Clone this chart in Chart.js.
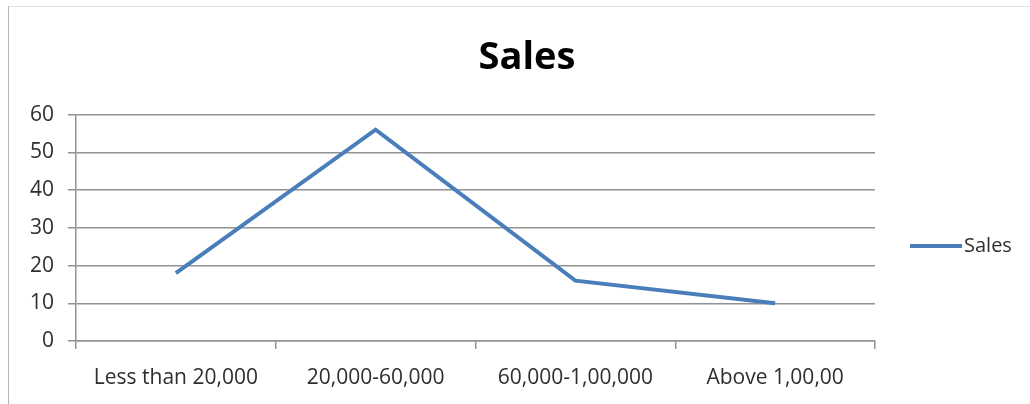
<!DOCTYPE html>
<html>
<head>
<meta charset="utf-8">
<script src="https://cdn.jsdelivr.net/npm/chart.js@4"></script>
<style>
  html, body { margin: 0; padding: 0; background: #fff; }
  #wrap { position: relative; width: 1030px; height: 404px; overflow: hidden; }
  #frame { position: absolute; left: 8px; top: 6px; right: -2px; bottom: -2px;
           border-left: 1px solid #b5b5b5; border-top: 1px solid #e2e2e2; }
  canvas { position: absolute; left: 0; top: 0; }
</style>
</head>
<body>
<div id="wrap">
  <div id="frame"></div>
  <canvas id="chart" width="1030" height="404"></canvas>
</div>
<script>
// Sales by income band
const categories = ['Less than 20,000', '20,000-60,000', '60,000-1,00,000', 'Above 1,00,00'];
const salesValues = [18, 56, 16, 10];
const yTicks = [0, 10, 20, 30, 40, 50, 60];

const FONT = "'Open Sans', 'Liberation Sans', sans-serif";
const TEXT = '#2e2e2e';
const GRID = '#929292';
const LINE = '#4a7ebb';

// Legend drawn at the right of the plot: a short line sample followed by the series name
const sideLegend = {
  id: 'sideLegend',
  afterDraw(chart) {
    const ds = chart.data.datasets[0];
    const { ctx, chartArea } = chart;
    const x0 = chartArea.right + 35;
    const y = 246;
    ctx.save();
    ctx.strokeStyle = ds.borderColor;
    ctx.lineWidth = ds.borderWidth;
    ctx.beginPath();
    ctx.moveTo(x0, y);
    ctx.lineTo(x0 + 52, y);
    ctx.stroke();
    ctx.fillStyle = TEXT;
    ctx.font = "20px " + FONT;
    ctx.textBaseline = 'middle';
    ctx.fillText(ds.label, x0 + 54, y);
    ctx.restore();
  }
};

new Chart(document.getElementById('chart'), {
  type: 'line',
  data: {
    labels: categories,
    datasets: [{
      label: 'Sales',
      data: salesValues,
      borderColor: LINE,
      backgroundColor: LINE,
      borderWidth: 4,
      pointRadius: 0,
      pointHoverRadius: 0,
      tension: 0,
      fill: false
    }]
  },
  options: {
    responsive: false,
    animation: false,
    layout: { padding: { left: 24, right: 0, top: 0, bottom: 0 } },
    plugins: {
      legend: { display: false },
      tooltip: { enabled: false },
      title: {
        display: true,
        text: 'Sales',
        color: '#000',
        font: { family: FONT, size: 38, weight: 'bold' },
        padding: { top: 35, bottom: 34 }
      }
    },
    scales: {
      x: {
        offset: true,
        grid: { offset: true, drawOnChartArea: false, drawTicks: true, tickLength: 8, color: GRID, lineWidth: 1.5 },
        border: { color: GRID, width: 1.5 },
        ticks: { color: TEXT, font: { family: FONT, size: 21 }, padding: 16, maxRotation: 0, autoSkip: false },
        afterFit(scale) { scale.height = 63; }
      },
      y: {
        min: 0,
        max: 60,
        afterBuildTicks(scale) { scale.ticks = yTicks.map(v => ({ value: v })); },
        grid: { color: GRID, lineWidth: 1.5, tickLength: 8 },
        border: { color: GRID, width: 1.5 },
        ticks: { color: TEXT, font: { family: FONT, size: 21 }, padding: 14 },
        afterFit(scale) { scale.width = 52; }
      },
      legendSpace: {
        position: 'right',
        display: true,
        grid: { display: false },
        border: { display: false },
        ticks: { display: false },
        afterFit(scale) { scale.width = 155; }
      }
    }
  },
  plugins: [sideLegend]
});
</script>
</body>
</html>
